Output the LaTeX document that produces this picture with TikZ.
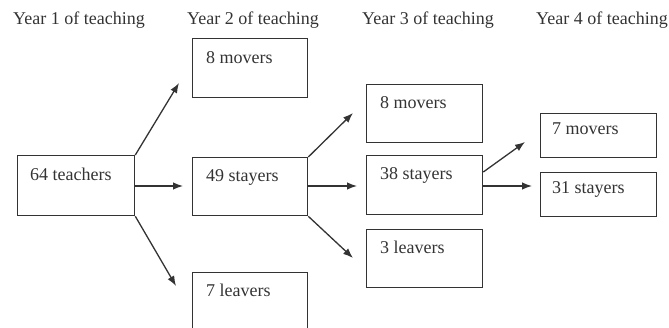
\documentclass[tikz,border=0pt]{standalone}
\usepackage{fontspec}
\setmainfont{Liberation Serif}
\usetikzlibrary{arrows.meta}
\definecolor{ink}{HTML}{333333}
\begin{document}
\begin{tikzpicture}[x=1pt,y=-1pt,
  box/.style={draw=ink,line width=1.3pt,anchor=north west,inner sep=0pt,
    minimum width=115pt,minimum height=#1},
  box/.default=59pt,
  lbl/.style={anchor=base west,inner sep=0pt,text=ink,font=\fontsize{18}{20}\selectfont},
  head/.style={anchor=base west,inner sep=0pt,text=ink,font=\fontsize{18}{20}\selectfont},
  flow/.style={draw=ink,line width=1.3pt,-{Latex[length=10pt,width=7.5pt]}}]
\useasboundingbox (0,0) rectangle (669,328);

% column headings
\node[head] (h1) at (13,25) {Year 1 of teaching};
\node[head] (h2) at (187,25) {Year 2 of teaching};
\node[head] (h3) at (362,25) {Year 3 of teaching};
\node[head] (h4) at (536,25) {Year 4 of teaching};

% year 1
\node[box=60pt,minimum width=117pt] (t) at (17,155) {};
\node[lbl] at ([shift={(13,26)}]t.north west) {64 teachers};

% year 2
\node[box] (m2) at (192,38) {};
\node[lbl] at ([shift={(14,26)}]m2.north west) {8 movers};
\node[box=58pt] (s2) at (192,157) {};
\node[lbl] at ([shift={(14,25)}]s2.north west) {49 stayers};
\node[box=70pt] (l2) at (192,272) {};
\node[lbl] at ([shift={(14,25)}]l2.north west) {7 leavers};

% year 3
\node[box=58pt,minimum width=116pt] (m3) at (366,84) {};
\node[lbl] at ([shift={(14,25)}]m3.north west) {8 movers};
\node[box=59pt,minimum width=116pt] (s3) at (366,155) {};
\node[lbl] at ([shift={(14,25)}]s3.north west) {38 stayers};
\node[box=58pt,minimum width=116pt] (l3) at (366,229) {};
\node[lbl] at ([shift={(14,25)}]l3.north west) {3 leavers};

% year 4
\node[box=44pt,minimum width=116pt] (m4) at (540,113) {};
\node[lbl] at ([shift={(12,22)}]m4.north west) {7 movers};
\node[box=44pt,minimum width=116pt] (s4) at (540,172) {};
\node[lbl] at ([shift={(12,22)}]s4.north west) {31 stayers};

% free ends of the arrows
\coordinate (a1) at (179,83);
\coordinate (a2) at (183,186);
\coordinate (a3) at (176,286);
\coordinate (b1) at (353,113);
\coordinate (b2) at (357,186);
\coordinate (b3) at (353,258);
\coordinate (c1) at (525,142);
\coordinate (c2) at (532,186);

\draw[flow] (t.north east) -- (a1);
\draw[flow] (t.east |- a2) -- (a2);
\draw[flow] (t.south east) -- (a3);
\draw[flow] (s2.north east) -- (b1);
\draw[flow] (s2.east |- b2) -- (b2);
\draw[flow] (s2.south east) -- (b3);
\draw[flow] (s3.east |- 0,172) -- (c1);
\draw[flow] (s3.east |- c2) -- (c2);
\end{tikzpicture}
\end{document}
